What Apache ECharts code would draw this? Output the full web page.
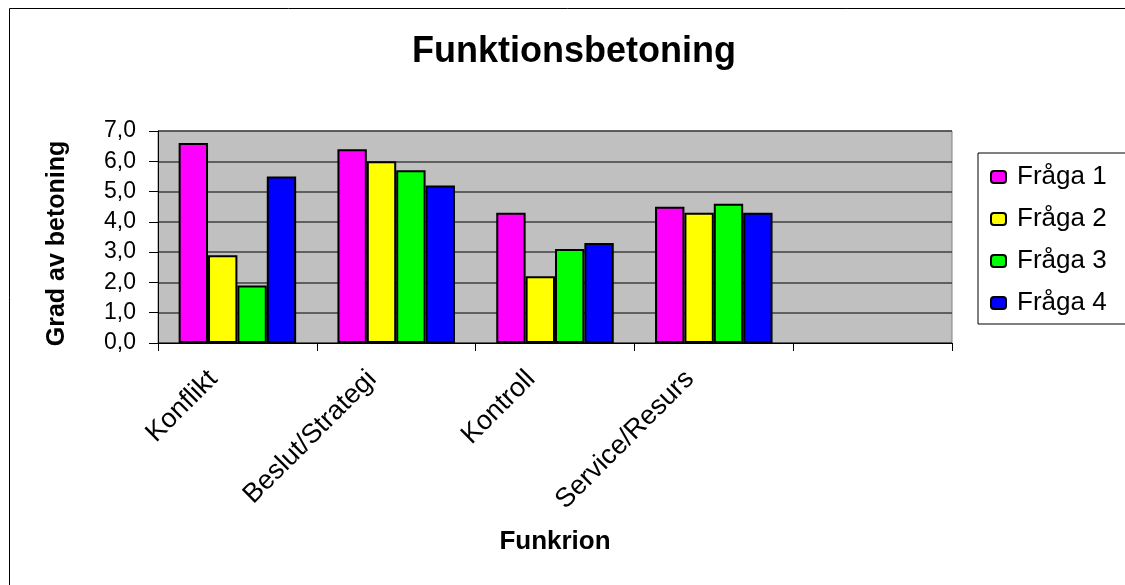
<!DOCTYPE html>
<html>
<head>
<meta charset="utf-8">
<script src="https://cdn.jsdelivr.net/npm/echarts@6/dist/echarts.min.js"></script>
<style>
    html, body { margin: 0; padding: 0; background: #fff; }
    #chart { width: 1125px; height: 585px; }
</style>
</head>
<body>
<div id="chart"></div>
<script>
// categories (the fifth slot is empty in the original)
const categories = ['Konflikt', 'Beslut/Strategi', 'Kontroll', 'Service/Resurs', ''];
const seriesNames = ['Fråga 1', 'Fråga 2', 'Fråga 3', 'Fråga 4'];
const fraga1 = [6.6, 6.4, 4.3, 4.5];
const fraga2 = [2.9, 6.0, 2.2, 4.3];
const fraga3 = [1.9, 5.7, 3.1, 4.6];
const fraga4 = [5.5, 5.2, 3.3, 4.3];
const colors = ['#FF00FF', '#FFFF00', '#00FF00', '#0000FF'];

const font = '"Liberation Sans", Arial, sans-serif';
let chart = echarts.init(document.getElementById('chart'));

const seriesData = [fraga1, fraga2, fraga3, fraga4];
const series = seriesData.map(function (values, i) {
    return {
        name: seriesNames[i],
        type: 'bar',
        data: values,
        barGap: '0%',
        barCategoryGap: '26%',
        itemStyle: {
            color: colors[i],
            borderColor: '#000',
            borderWidth: 2
        }
    };
});

chart.setOption({
    animation: false,
    textStyle: { fontFamily: font },
    title: {
        text: 'Funktionsbetoning',
        left: 569,
        top: 29,
        textAlign: 'center',
        textStyle: { fontSize: 36, fontWeight: 'bold', color: '#000', fontFamily: font }
    },
    legend: {
        orient: 'vertical',
        left: 978,
        top: 153,
        padding: [11, 30, 8, 12],
        itemGap: 16,
        itemWidth: 15,
        itemHeight: 12,
        backgroundColor: '#fff',
        borderColor: '#000',
        borderWidth: 1,
        textStyle: { fontSize: 26, color: '#000', fontFamily: font, lineHeight: 25, padding: [0, 0, 0, 6] },
        data: seriesNames
    },
    graphic: [{
        type: 'rect',
        shape: { x: 9.5, y: 8.5, width: 1300, height: 700 },
        style: { fill: 'none', stroke: '#000', lineWidth: 1 },
        silent: true
    }],
    grid: {
        left: 158,
        right: 173,
        top: 131,
        bottom: 242,
        show: true,
        backgroundColor: '#C0C0C0',
        borderColor: '#808080',
        borderWidth: 1
    },
    xAxis: {
        type: 'category',
        data: categories,
        name: 'Funkrion',
        nameLocation: 'middle',
        nameGap: 186,
        nameTextStyle: { fontSize: 26, fontWeight: 'bold', color: '#000', fontFamily: font },
        axisLine: { lineStyle: { color: '#000', width: 1 } },
        axisTick: { show: true, length: 8, lineStyle: { color: '#000' } },
        axisLabel: {
            rotate: 45,
            interval: 0,
            margin: 8,
            padding: [0, 34, 0, 0],
            fontSize: 27,
            color: '#000',
            fontFamily: font
        }
    },
    yAxis: {
        type: 'value',
        min: 0,
        max: 7,
        interval: 1,
        name: 'Grad av betoning',
        nameLocation: 'middle',
        nameRotate: 90,
        nameGap: 88,
        nameTextStyle: { fontSize: 25, fontWeight: 'bold', color: '#000', fontFamily: font, padding: [0, 13, 0, 0] },
        axisLine: { show: true, lineStyle: { color: '#000', width: 1 } },
        axisTick: { show: true, length: 9, lineStyle: { color: '#000' } },
        axisLabel: {
            margin: 22,
            fontSize: 23,
            color: '#000',
            fontFamily: font,
            formatter: function (v) { return v.toFixed(1).replace('.', ','); }
        },
        splitLine: { lineStyle: { color: '#404040', width: 1.5 } }
    },
    series: series
});
</script>
</body>
</html>
